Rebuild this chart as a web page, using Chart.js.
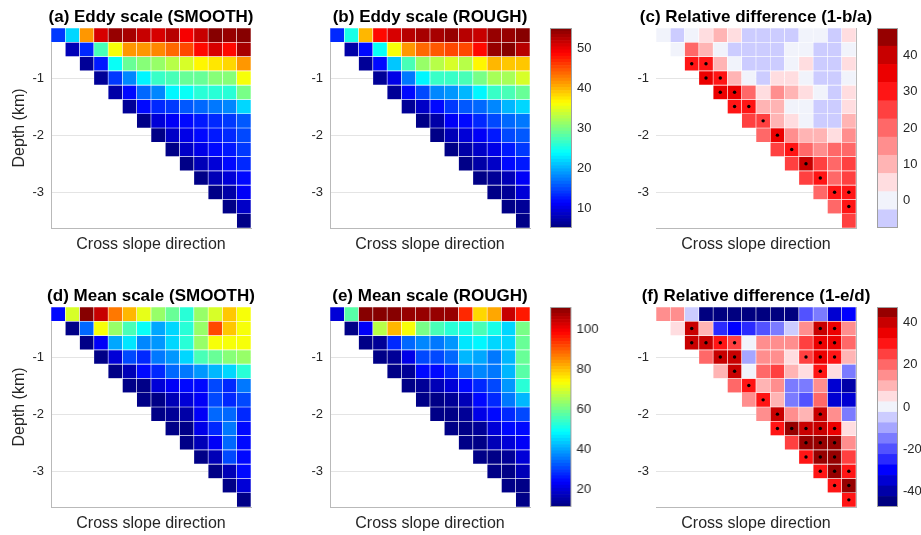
<!DOCTYPE html>
<html>
<head>
<meta charset="utf-8">
<script src="https://cdn.jsdelivr.net/npm/chart.js@4/dist/chart.umd.min.js"></script>
<style>
html, body { margin: 0; padding: 0; background: #ffffff; }
body { width: 921px; height: 535px; position: relative; overflow: hidden; }
canvas.p { position: absolute; }
</style>
</head>
<body>
<script>
// ---------------- data ----------------
const columns = ['1','2','3','4','5','6','7','8','9','10','11','12','13','14'];
const depthLevels = [-0.25,-0.5,-0.75,-1,-1.25,-1.5,-1.75,-2,-2.25,-2.5,-2.75,-3,-3.25,-3.5];
const depthTicks = [-3, -2, -1];

// (a) eddy scale, SMOOTH  (row r holds columns r..13)
const eddySmooth = [
  [14, 22, 41, 50.5, 54, 53, 51.5, 51, 52, 49.5, 51.5, 55, 54, 55],
  [7.5, 13.5, 27, 36, 41, 41.5, 42, 44, 45, 48, 51, 48, 53],
  [6, 12.5, 24, 28.5, 30.5, 31, 33, 34.5, 37, 37.5, 38, 41],
  [6.5, 14, 18, 23.5, 26.5, 27.5, 28.5, 29, 30, 30, 35.5],
  [7, 12, 16.5, 18, 23, 24.5, 25.5, 25.5, 26, 29.5],
  [6, 11.5, 13.5, 14, 15.5, 16, 17, 18, 22],
  [5.5, 9, 10.5, 12, 12.5, 13.5, 14, 15.5],
  [5.5, 8.5, 10, 11.5, 12.5, 13.5, 14.5],
  [5.5, 8.5, 10, 11.5, 12.5, 14],
  [5.5, 8, 9.5, 11.5, 13.5],
  [5.5, 7.5, 9, 12],
  [5.5, 7, 11],
  [5.5, 8.5],
  [5.5]
];
// (b) eddy scale, ROUGH
const eddyRough = [
  [13.5, 25, 40, 48, 50.5, 52, 53, 53, 54, 52, 51.5, 54, 54, 55],
  [7, 11.5, 24.5, 36, 41, 43.5, 44.5, 45, 45, 48, 54, 55, 52],
  [6, 11.5, 21, 27, 31.5, 33, 34, 33, 36.5, 40, 39, 39],
  [6, 10, 17, 23.5, 26.5, 26.5, 27, 29.5, 32, 32, 34],
  [6, 12, 15, 18, 19, 20.5, 23, 26.5, 27.5, 28.5],
  [6, 8.5, 12, 14, 15.5, 16, 18, 20.5, 22],
  [5.5, 7, 10.5, 12, 13.5, 15, 16, 17],
  [5.5, 8, 9.5, 11, 12.5, 15, 15.5],
  [5.5, 7, 8.5, 10, 12.5, 14],
  [5.5, 7, 8.5, 11.5, 12.5],
  [5.5, 6.5, 8, 11],
  [5.5, 6, 9],
  [5.5, 6],
  [5.5]
];
// (c) relative difference 1-b/a (%)
const eddyDiff = [
  [0, -5, 0, 5, 10, 5, -5, -5, -5, -5, 0, 0, -5, 5],
  [0, 20, 10, 0, -5, -5, -5, -5, 0, 0, -5, -5, 0],
  [30, 30, 10, 0, -5, -5, -5, 0, 5, -5, -5, 5],
  [35, 30, 10, 0, -5, 5, 5, 0, -5, -5, 0],
  [35, 35, 20, 5, 15, 10, 5, 0, -5, 5],
  [30, 30, 10, 10, 0, 0, -5, -5, 5],
  [25, 25, 10, 5, 0, -5, -5, 10],
  [20, 35, 15, 10, 10, 5, 15],
  [25, 30, 20, 15, 20, 20],
  [25, 40, 25, 20, 25],
  [25, 30, 20, 25],
  [20, 30, 30],
  [20, 30],
  [25]
];
const eddyDots = [[2,2],[2,3],[3,3],[3,4],[4,4],[4,5],[5,5],[5,6],[6,7],[7,8],[8,9],[9,10],[10,11],[11,12],[11,13],[12,13]];

// (d) mean scale, SMOOTH
const meanSmooth = [
  [24, 70, 110, 104, 87, 80, 71, 63, 58, 52, 64, 70, 79, 72],
  [12, 33, 72.5, 63, 56, 49, 40, 44, 53, 64, 91, 79, 72],
  [12, 22, 40, 46, 37, 38, 44, 53, 63, 72, 72, 72],
  [12, 20, 31, 28, 35, 38, 44, 56, 59, 62, 64],
  [12, 16, 24, 27, 33, 35, 38, 42, 44, 53],
  [12, 12, 19, 22, 24, 25, 30, 28, 35],
  [11, 12, 16, 19, 22, 30, 27, 30],
  [11, 13, 15, 22, 33, 33, 27],
  [11, 12, 21, 28, 35, 25],
  [11, 17, 22, 33, 24],
  [11, 16, 30, 24],
  [11, 16, 24],
  [11, 20],
  [11]
];
// (e) mean scale, ROUGH
const meanRough = [
  [20, 57, 110, 110, 110, 109, 109, 108, 108, 95, 77, 82, 104, 96],
  [12, 22, 67, 81, 72.5, 60, 56, 53, 51, 56, 51, 44, 60],
  [12, 13, 27, 33, 37, 35, 38, 46, 48, 45, 44, 59],
  [12, 13, 21, 31, 30, 33, 42, 40, 35, 42, 59],
  [12, 13, 24, 24, 28, 33, 37, 35, 42, 57],
  [12, 13, 17, 20, 25, 28, 30, 38, 53],
  [11, 12, 13, 17, 24, 27, 35, 42],
  [11, 12, 14, 21, 24, 28, 31],
  [11, 12, 14, 19, 24, 25],
  [11, 12, 16, 20, 22],
  [11, 12, 14, 19],
  [11, 12, 16],
  [11, 12],
  [11]
];
// (f) relative difference 1-e/d (%)
const meanDiff = [
  [15, 15, -5, -45, -45, -45, -45, -45, -45, -45, -20, -15, -35, -30],
  [5, 40, 10, -25, -30, -25, -20, -15, -5, 15, 40, 35, 15],
  [40, 40, 30, 25, 0, 15, 15, 15, 25, 35, 35, 20],
  [20, 40, 40, -10, 15, 15, 5, 25, 35, 30, 10],
  [10, 40, 0, 20, 25, 10, 5, 30, 5, -15],
  [20, 30, 10, 15, -15, -15, 15, -35, -40],
  [15, 30, 10, -15, -20, 20, -35, -35],
  [15, 40, 15, 10, 40, 15, -15],
  [30, 45, 40, 40, 35, 5],
  [25, 45, 45, 45, 15],
  [30, 45, 45, 25],
  [30, 45, 30],
  [30, 45],
  [30]
];
const meanDots = [[1,2],[1,11],[1,12],[2,2],[2,3],[2,4],[2,5],[2,11],[2,12],[3,4],[3,5],[3,10],[3,11],[3,12],
  [4,5],[4,11],[5,6],[6,7],[7,8],[7,11],[8,8],[8,9],[8,10],[8,11],[8,12],[9,10],[9,11],[9,12],
  [10,10],[10,11],[10,12],[11,11],[11,12],[11,13],[12,12],[12,13],[13,13]];

// colour ranges and colourbar ticks
const eddyRange = [5, 55];
const eddyTicks = [10, 20, 30, 40, 50];
const meanRange = [11, 111];
const meanTicks = [20, 40, 60, 80, 100];
const eddyDiffRange = [-7.5, 47.5];
const eddyDiffTicks = [0, 10, 20, 30, 40];
const meanDiffRange = [-47.5, 47.5];
const meanDiffTicks = [-40, -20, 0, 20, 40];

// ---------------- styling ----------------
const FONT = '"Liberation Sans", Arial, Helvetica, sans-serif';
const TXT = '#262626';
const AXIS_C = '#b9b9b9';
const GRID_C = '#e4e4e4';
const CELL_EDGE = 'rgba(255,255,255,0.75)';
const AX_W = 51, TITLE_H = 28, XAX_H = 37, PANEL_W = 302, PANEL_H = 265;
const CB_PADL = 10, CB_AX = 40;
const DIV_STEP = 5;
const JET_LEVELS = 64;
// diverging palette, band centres -45 .. 45
const divPalette = ['#000080','#0000a8','#0000d2','#0000ff','#2a2aff','#5252ff','#7b7bff','#a6a6ff','#ccccff',
  '#f1f3fb',
  '#ffdde0','#ffb4b4','#ff8e8e','#ff6868','#ff4040','#ff1515','#ec0000','#c80000','#960000'];

Chart.defaults.font.family = FONT;

function jet(t) {
  const f = x => Math.round(255 * Math.max(0, Math.min(1, 1.5 - Math.abs(4 * t - x))));
  return 'rgb(' + f(3) + ',' + f(2) + ',' + f(1) + ')';
}
function jetOf(range) {
  return v => {
    let k = Math.floor((v - range[0]) / (range[1] - range[0]) * JET_LEVELS);
    k = Math.max(0, Math.min(JET_LEVELS - 1, k));
    return jet((k + 0.5) / JET_LEVELS);
  };
}
function divColor(v) {
  let k = Math.round(v / DIV_STEP) + 9;
  k = Math.max(0, Math.min(divPalette.length - 1, k));
  return divPalette[k];
}

function addCanvas(left, top, w, h) {
  const c = document.createElement('canvas');
  c.className = 'p';
  c.width = w; c.height = h;
  c.style.left = left + 'px'; c.style.top = top + 'px';
  c.style.width = w + 'px'; c.style.height = h + 'px';
  document.body.appendChild(c);
  return c;
}

const half = (depthLevels[0] - depthLevels[1]) / 2;
const yMax = depthLevels[0] + half;
const yMin = depthLevels[depthLevels.length - 1] - half;

function cellDatasets(rows, colorOf) {
  return rows.map((vals, r) => {
    const first = columns.length - vals.length;
    const d = depthLevels[r];
    return {
      type: 'bar',
      data: columns.map((_, j) => j >= first ? [d + half, d - half] : null),
      backgroundColor: columns.map((_, j) => j >= first ? colorOf(vals[j - first]) : 'rgba(0,0,0,0)'),
      borderColor: CELL_EDGE,
      borderWidth: 0.6,
      borderSkipped: false,
      grouped: false,
      barPercentage: 1,
      categoryPercentage: 1
    };
  });
}

function heatPanel(p) {
  const cv = addCanvas(p.gridLeft - AX_W, p.gridTop - TITLE_H, PANEL_W, PANEL_H);
  const datasets = cellDatasets(p.rows, p.colorOf);
  if (p.dots) {
    datasets.unshift({
      type: 'scatter',
      data: p.dots.map(([r, c]) => ({ x: columns[c], y: depthLevels[r] })),
      pointRadius: 1.7, pointHoverRadius: 1.7,
      backgroundColor: '#000', borderWidth: 0, order: -1
    });
  }
  const scales = {
    x: {
      type: 'category', offset: true,
      grid: { display: false, drawTicks: false },
      border: { display: true, color: AXIS_C, width: 1 },
      ticks: { display: false },
      title: { display: true, text: 'Cross slope direction', color: TXT, font: { size: 16 }, padding: { top: 0, bottom: 10.4 } },
      afterFit: s => { s.height = XAX_H; }
    },
    y: {
      type: 'linear', min: yMin, max: yMax,
      afterBuildTicks: s => { s.ticks = depthTicks.map(v => ({ value: v })); },
      ticks: { color: TXT, font: { size: 13 }, padding: 7 },
      grid: { color: GRID_C, drawTicks: false, lineWidth: 1 },
      border: { display: p.leftBorder, color: AXIS_C },
      title: { display: p.yTitle, text: 'Depth (km)', color: TXT, font: { size: 16 }, padding: { top: 10.4, bottom: 0 } },
      afterFit: s => { s.width = AX_W; }
    },
    yR: {
      type: 'linear', position: 'right', min: yMin, max: yMax,
      ticks: { display: false }, grid: { display: false, drawTicks: false },
      border: { display: !!p.rightBorder, color: AXIS_C },
      afterFit: s => { s.width = AX_W; }
    }
  };
  new Chart(cv, {
    type: 'bar',
    data: { labels: columns, datasets },
    options: {
      responsive: false, animation: false, events: [],
      layout: { padding: 0 },
      plugins: {
        legend: { display: false }, tooltip: { enabled: false },
        title: { display: true, fullSize: true, text: p.title, color: '#000', font: { size: 17, weight: 'bold' }, padding: { top: 7.3, bottom: 0.3 } }
      },
      scales
    }
  });
}

const framePlugin = {
  id: 'frame',
  afterDraw(chart) {
    const a = chart.chartArea, ctx = chart.ctx;
    ctx.save();
    ctx.strokeStyle = '#a0a0a0';
    ctx.lineWidth = 1;
    ctx.strokeRect(Math.round(a.left) + 0.5, Math.round(a.top) + 0.5, Math.round(a.right - a.left) - 1, Math.round(a.bottom - a.top) - 1);
    ctx.restore();
  }
};

function colorbar(p) {
  const w = p.right - p.left;
  const cv = addCanvas(p.left - CB_PADL, p.top - TITLE_H, CB_PADL + w + CB_AX, PANEL_H);
  const datasets = p.segments.map(s => ({
    data: [[s.lo, s.hi]], backgroundColor: s.color, borderWidth: 0,
    grouped: false, barPercentage: 1, categoryPercentage: 1
  }));
  new Chart(cv, {
    type: 'bar',
    data: { labels: ['cb'], datasets },
    options: {
      responsive: false, animation: false, events: [],
      layout: { padding: { left: CB_PADL, right: 0, top: TITLE_H, bottom: XAX_H } },
      plugins: { legend: { display: false }, tooltip: { enabled: false } },
      scales: {
        x: { display: false },
        y: {
          position: 'right', min: p.range[0], max: p.range[1],
          afterBuildTicks: s => { s.ticks = p.ticks.map(v => ({ value: v })); },
          ticks: { color: TXT, font: { size: 13 }, padding: 5 },
          grid: { display: false, drawTicks: false },
          border: { display: false },
          afterFit: s => { s.width = CB_AX; }
        }
      }
    },
    plugins: [framePlugin]
  });
}

function jetSegments(range) {
  const step = (range[1] - range[0]) / JET_LEVELS;
  return Array.from({ length: JET_LEVELS }, (_, k) => ({
    lo: range[0] + k * step, hi: range[0] + (k + 1) * step, color: jet((k + 0.5) / JET_LEVELS)
  }));
}
function divSegments(range) {
  const out = [];
  for (let c = range[0] + DIV_STEP / 2; c < range[1]; c += DIV_STEP) {
    out.push({ lo: c - DIV_STEP / 2, hi: c + DIV_STEP / 2, color: divColor(c) });
  }
  return out;
}

// ---------------- panels ----------------
const TOP1 = 28, TOP2 = 306.7;
heatPanel({ gridLeft: 51, gridTop: TOP1, title: '(a) Eddy scale (SMOOTH)', rows: eddySmooth, colorOf: jetOf(eddyRange), yTitle: true, leftBorder: true });
heatPanel({ gridLeft: 329.5, gridTop: TOP1, title: '(b) Eddy scale (ROUGH)', rows: eddyRough, colorOf: jetOf(eddyRange), yTitle: false, leftBorder: true });
heatPanel({ gridLeft: 656, gridTop: TOP1, title: '(c) Relative difference (1-b/a)', rows: eddyDiff, colorOf: divColor, dots: eddyDots, yTitle: false, leftBorder: false, rightBorder: true });
heatPanel({ gridLeft: 51, gridTop: TOP2, title: '(d) Mean scale (SMOOTH)', rows: meanSmooth, colorOf: jetOf(meanRange), yTitle: true, leftBorder: true });
heatPanel({ gridLeft: 329.5, gridTop: TOP2, title: '(e) Mean scale (ROUGH)', rows: meanRough, colorOf: jetOf(meanRange), yTitle: false, leftBorder: true });
heatPanel({ gridLeft: 656, gridTop: TOP2, title: '(f) Relative difference (1-e/d)', rows: meanDiff, colorOf: divColor, dots: meanDots, yTitle: false, leftBorder: false, rightBorder: true });

colorbar({ left: 549.5, right: 571.7, top: TOP1, range: eddyRange, ticks: eddyTicks, segments: jetSegments(eddyRange) });
colorbar({ left: 876.7, right: 898.3, top: TOP1, range: eddyDiffRange, ticks: eddyDiffTicks, segments: divSegments(eddyDiffRange) });
colorbar({ left: 550, right: 571.7, top: TOP2, range: meanRange, ticks: meanTicks, segments: jetSegments(meanRange) });
colorbar({ left: 876.7, right: 898.3, top: TOP2, range: meanDiffRange, ticks: meanDiffTicks, segments: divSegments(meanDiffRange) });
</script>
</body>
</html>
